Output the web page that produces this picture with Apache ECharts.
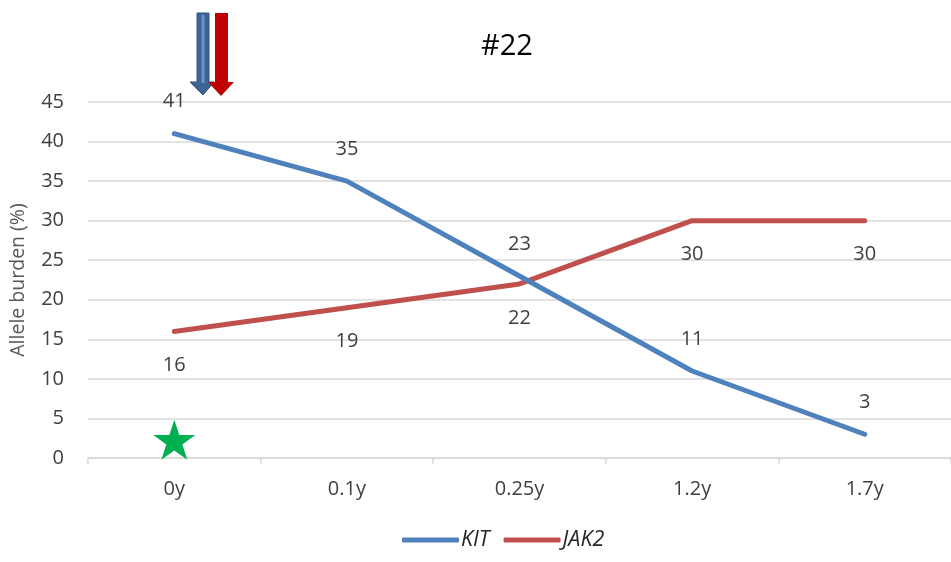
<!DOCTYPE html>
<html><head><meta charset="utf-8">
<script src="https://cdn.jsdelivr.net/npm/echarts@6/dist/echarts.min.js"></script>
<style>html,body{margin:0;padding:0;background:#fff}#c{width:951px;height:562px}</style>
</head><body><div id="c"></div>
<script>
const categories = ['0y','0.1y','0.25y','1.2y','1.7y'];
const kit = [41,35,23,11,3];
const jak2 = [16,19,22,30,30];
const yTicks = [0,5,10,15,20,25,30,35,40,45];
const starPoint = [['0y', 2.3]];

const FONT = 'Open Sans';
const chart = echarts.init(document.getElementById('c'));
const starPath = 'path://M50,0 L61.8,36.2 L100,36.2 L69.1,58.8 L80.9,95.1 L50,72.7 L19.1,95.1 L30.9,58.8 L0,36.2 L38.2,36.2 Z';
chart.setOption({
  animation:false,
  title:{text:'#22', left:502, top:27, textAlign:'center',
    textStyle:{fontFamily:FONT, fontSize:29, fontWeight:'normal', color:'#000'}},
  grid:{left:87, width:865, top:102, height:356},
  legend:{bottom:6, left:397, itemGap:14, itemWidth:57, itemHeight:5,
    data:[{name:'KIT', icon:'roundRect'},{name:'JAK2', icon:'roundRect'}],
    textStyle:{fontFamily:FONT, fontSize:21.5, fontStyle:'italic', color:'#262626', padding:[0,0,0,-3]}},
  xAxis:{type:'category', data:categories, boundaryGap:true,
    axisLine:{lineStyle:{color:'#d9d9d9', width:1.5}},
    axisTick:{show:true, length:6, lineStyle:{color:'#d9d9d9', width:1.5}},
    axisLabel:{fontFamily:FONT, fontSize:20, color:'#404040', margin:21}},
  yAxis:{type:'value', min:0, max:45, interval:5,
    name:'Allele burden (%)', nameLocation:'middle', nameGap:60, nameRotate:90,
    nameTextStyle:{fontFamily:FONT, fontSize:19.5, color:'#595959'},
    axisLine:{show:false}, axisTick:{show:false},
    axisLabel:{fontFamily:FONT, fontSize:20, color:'#404040', margin:24,
      formatter:v=>yTicks.includes(v)?String(v):''},
    splitLine:{lineStyle:{color:'#d9d9d9', width:1.5}}},
  series:[
    {name:'KIT', type:'line', data:kit, showSymbol:true, symbol:'circle', symbolSize:0.1, z:3,
      lineStyle:{color:'#4f81bd', width:5, cap:'round', join:'round'}, itemStyle:{color:'#4f81bd'},
      label:{show:true, position:'top', distance:22, fontFamily:FONT, fontSize:20, color:'#404040'}},
    {name:'JAK2', type:'line', data:jak2, showSymbol:true, symbol:'circle', symbolSize:0.1, z:2,
      lineStyle:{color:'#c0504d', width:5, cap:'round', join:'round'}, itemStyle:{color:'#c0504d'},
      label:{show:true, position:'bottom', distance:24, fontFamily:FONT, fontSize:20, color:'#404040'}},
    {name:'star', type:'scatter', data:starPoint, symbol:starPath, symbolSize:[42,40],
      itemStyle:{color:'#00b050', opacity:1}, silent:true, z:4}
  ],
  graphic:[
    {type:'polygon', shape:{points:[[197,13],[209,13],[209,82],[214,82],[203,95],[190,82],[197,82]]},
      style:{fill:'#3c6496', stroke:'#2f5480', lineWidth:1}, z:10},
    {type:'rect', shape:{x:201.5,y:15,width:3,height:68}, style:{fill:'#6d92c4'}, z:11},
    {type:'polygon', shape:{points:[[215,13],[228,13],[228,82],[234,82],[221,96],[208,82],[215,82]]},
      style:{fill:'#c00000'}, z:12}
  ]
});
</script></body></html>
